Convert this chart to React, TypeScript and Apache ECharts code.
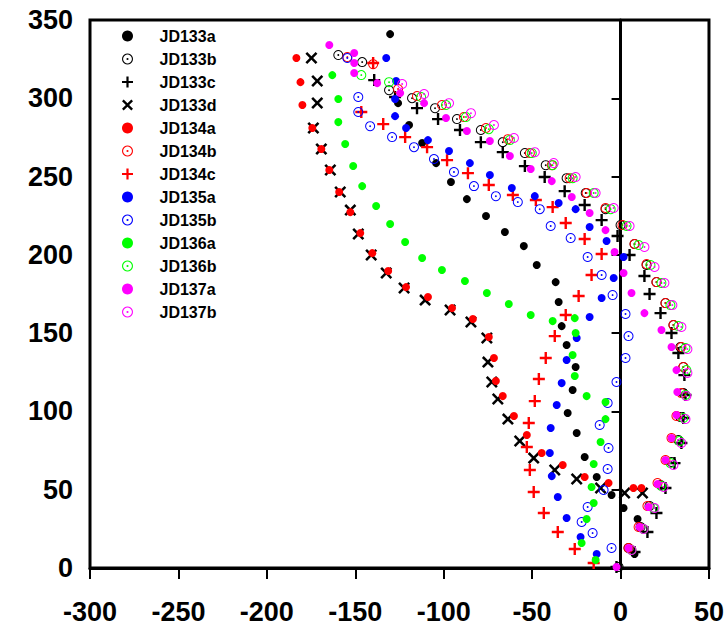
import React, { useEffect, useRef } from "react";
import * as echarts from "echarts";

// ---------- data ----------
const seriesNames = [
  "JD133a", "JD133b", "JD133c", "JD133d", "JD134a", "JD134b", "JD134c",
  "JD135a", "JD135b", "JD136a", "JD136b", "JD137a", "JD137b",
];

const xTicks = [-300, -250, -200, -150, -100, -50, 0, 50];
const yTicks = [0, 50, 100, 150, 200, 250, 300, 350];

const JD133a = [
  [-130.3, 341.0], [-125.8, 296.9], [-119.6, 282.9], [-112.2, 271.4], [-104.3, 258.6],
  [-95.9, 246.5], [-86.9, 235.6], [-76.1, 224.8], [-65.4, 214.6], [-54.7, 205.6],
  [-47.4, 193.5], [-36.7, 182.6], [-35.0, 169.9], [-33.3, 154.5], [-30.5, 142.4],
  [-25.4, 128.4], [-27.1, 113.7], [-29.9, 99.0], [-24.8, 86.2], [-20.3, 70.9],
  [-13.5, 58.1], [-5.1, 46.6], [1.7, 38.3], [9.6, 31.3], [7.9, 8.9],
];
const JD133b = [
  [-159.6, 327.6], [-146.1, 323.1], [-130.9, 305.2], [-117.9, 300.1], [-104.9, 293.7],
  [-92.5, 286.7], [-79.0, 279.7], [-66.6, 272.0], [-54.1, 265.0], [-42.3, 257.3],
  [-30.5, 249.0], [-19.7, 239.5], [-8.5, 229.2], [0.0, 219.0], [7.9, 206.9],
  [14.7, 193.5], [20.3, 182.6], [25.4, 169.2], [29.9, 155.2], [33.8, 141.1],
  [35.5, 128.4], [35.5, 111.7], [33.8, 96.4], [32.7, 81.7], [28.8, 67.7],
  [22.6, 53.0], [16.4, 39.6], [11.3, 26.2], [4.5, 12.8], [-1.1, 0.6],
];
const JD133c = [
  [-139.3, 311.6], [-127.5, 300.8], [-115.1, 293.7], [-103.2, 286.7], [-90.8, 279.7],
  [-79.0, 272.0], [-66.6, 265.6], [-54.1, 256.7], [-42.9, 249.7], [-31.6, 240.7],
  [-20.3, 231.8], [-10.7, 222.2], [-1.7, 212.0], [5.1, 199.9], [13.5, 186.5],
  [16.4, 175.0], [22.6, 162.8], [28.8, 150.1], [32.7, 137.3], [36.1, 123.2],
  [36.7, 110.5], [35.5, 95.8], [34.4, 79.8], [30.5, 67.0], [25.4, 51.1],
  [20.3, 35.1], [15.2, 23.0], [7.9, 10.2], [-2.3, 0.6],
];
const JD133d = [
  [-174.8, 325.7], [-171.5, 311.0], [-171.5, 297.0], [-173.7, 281.0], [-169.2, 267.6],
  [-164.1, 254.2], [-158.5, 240.1], [-152.8, 228.6], [-148.3, 213.3], [-141.0, 199.9],
  [-132.5, 188.4], [-122.4, 178.8], [-110.5, 171.1], [-96.4, 164.8], [-84.6, 157.1],
  [-75.6, 146.9], [-75.0, 131.5], [-72.8, 118.8], [-69.4, 107.9], [-63.7, 95.1],
  [-57.0, 81.1], [-49.1, 70.2], [-37.2, 62.6], [-24.8, 56.8], [-11.3, 51.1],
  [2.3, 47.9], [12.4, 47.9],
];
const JD134a = [
  [-183.3, 325.7], [-181.0, 310.3], [-179.9, 295.7], [-174.3, 281.0], [-169.2, 267.6],
  [-164.7, 254.2], [-159.1, 240.1], [-152.8, 227.3], [-147.2, 213.9], [-140.4, 201.1],
  [-131.4, 189.7], [-121.3, 179.4], [-108.9, 173.1], [-95.3, 166.0], [-83.5, 159.0],
  [-74.5, 147.5], [-71.6, 134.1], [-70.5, 119.4], [-66.6, 109.8], [-60.3, 97.1],
  [-53.0, 84.9], [-44.6, 73.4], [-32.7, 65.8], [-20.3, 58.1], [-6.8, 54.3],
  [7.3, 51.1], [11.8, 51.1],
];
const JD134b = [
  [-154.5, 326.3], [-139.9, 321.8], [-125.8, 305.9], [-115.1, 301.4], [-101.0, 295.7],
  [-88.6, 288.0], [-76.1, 281.0], [-63.7, 273.9], [-51.3, 265.0], [-38.9, 257.3],
  [-28.8, 249.0], [-19.2, 239.5], [-8.5, 229.9], [1.1, 219.0], [7.9, 206.9],
  [14.7, 194.1], [20.3, 182.6], [25.4, 169.2], [29.9, 155.2], [34.4, 141.1],
  [35.5, 128.4], [34.4, 111.7], [31.6, 97.1], [28.8, 83.0], [25.4, 69.0],
  [20.9, 54.3], [15.2, 39.6], [10.2, 26.2], [4.5, 12.8],
];
const JD134c = [
  [-139.9, 322.5], [-146.6, 291.2], [-134.2, 283.5], [-121.8, 275.2], [-109.4, 268.8],
  [-98.1, 260.5], [-86.3, 252.2], [-74.5, 244.6], [-60.9, 238.2], [-47.9, 235.0],
  [-38.4, 230.5], [-31.0, 220.3], [-20.3, 210.1], [-10.7, 200.5], [-16.4, 187.1],
  [-23.7, 173.7], [-31.0, 161.6], [-37.2, 148.1], [-42.3, 134.1], [-46.2, 120.7],
  [-48.5, 106.6], [-51.9, 92.6], [-53.0, 77.3], [-51.3, 62.6], [-49.1, 48.5],
  [-43.4, 35.1], [-35.5, 23.0], [-25.9, 12.1], [-15.2, 3.2],
];
const JD135a = [
  [-132.5, 325.7], [-126.9, 311.0], [-127.5, 299.5], [-127.5, 288.6], [-121.3, 281.0],
  [-108.9, 273.3], [-97.0, 266.3], [-85.2, 258.6], [-73.9, 251.0], [-61.5, 242.7],
  [-48.5, 237.5], [-35.0, 233.1], [-25.4, 229.2], [-17.5, 217.8], [-7.9, 208.8],
  [1.7, 198.6], [-3.9, 185.2], [-10.7, 172.4], [-17.5, 160.3], [-24.8, 146.9],
  [-30.5, 132.8], [-33.3, 118.1], [-36.1, 104.1], [-39.5, 89.4], [-40.0, 73.4],
  [-38.9, 58.7], [-35.5, 45.3], [-30.5, 31.9], [-22.6, 19.8], [-13.5, 8.9],
];
const JD135b = [
  [-154.5, 325.7], [-148.3, 300.8], [-148.3, 291.2], [-141.6, 282.2], [-129.2, 275.2],
  [-116.8, 268.8], [-105.5, 261.2], [-94.2, 252.9], [-82.9, 243.9], [-70.5, 237.5],
  [-58.1, 233.7], [-45.7, 229.2], [-39.5, 218.4], [-28.2, 210.7], [-18.6, 198.6],
  [-10.7, 187.1], [-4.5, 174.3], [2.8, 162.2], [4.5, 148.1], [2.8, 134.1],
  [-2.3, 118.8], [-7.3, 105.4], [-11.8, 91.3], [-6.8, 76.6], [-7.3, 63.2],
  [-9.6, 49.8], [-18.6, 39.0], [-22.0, 29.4], [-15.8, 22.3], [-5.1, 12.8],
];
const JD136a = [
  [-163.0, 314.8], [-159.6, 299.5], [-159.6, 284.8], [-155.7, 270.8], [-151.2, 256.7],
  [-146.1, 243.9], [-138.2, 231.2], [-130.3, 219.7], [-121.8, 208.2], [-112.2, 198.0],
  [-101.0, 190.3], [-88.0, 183.3], [-75.6, 175.6], [-63.2, 168.6], [-50.8, 161.6],
  [-38.4, 157.7], [-25.9, 159.6], [-25.4, 150.1], [-27.1, 136.0], [-25.9, 122.6],
  [-19.2, 109.8], [-8.5, 106.0], [-8.5, 95.1], [-11.3, 80.5], [-15.2, 66.4],
  [-16.4, 51.7], [-15.2, 41.5], [-19.2, 31.3], [-22.0, 16.0], [-14.1, 5.1],
];
const JD136b = [
  [-146.6, 314.8], [-130.9, 310.3], [-112.8, 300.8], [-98.7, 295.7], [-87.4, 288.0],
  [-74.5, 280.3], [-62.6, 273.3], [-50.2, 265.0], [-38.4, 257.3], [-27.1, 249.0],
  [-15.2, 239.5], [-5.6, 229.2], [3.4, 218.4], [10.2, 206.3], [16.9, 193.5],
  [23.1, 182.0], [28.2, 167.9], [32.7, 154.5], [36.7, 140.5], [37.2, 126.4],
  [36.7, 110.5], [35.5, 95.8], [33.3, 81.1], [28.2, 67.0], [23.1, 52.4],
  [18.6, 38.3], [13.0, 24.9], [6.2, 11.5],
];
const JD137a = [
  [-164.7, 334.0], [-150.6, 328.9], [-150.6, 322.5], [-150.6, 316.1], [-137.6, 309.7],
  [-124.6, 303.3], [-111.1, 296.9], [-98.7, 287.4], [-86.9, 279.1], [-73.9, 272.7],
  [-62.6, 263.1], [-50.8, 254.8], [-38.9, 247.1], [-27.6, 236.9], [-17.5, 226.7],
  [-8.5, 215.8], [-3.4, 201.8], [1.7, 188.4], [6.2, 175.6], [13.5, 162.8],
  [23.1, 152.0], [28.8, 141.1], [31.6, 126.4], [32.1, 112.4], [31.6, 97.7],
  [28.8, 83.0], [25.4, 69.0], [20.9, 53.6], [15.8, 39.0], [10.7, 26.2],
  [4.5, 12.8], [-2.3, 0.6],
];
const JD137b = [
  [-123.5, 309.1], [-111.1, 302.7], [-97.0, 296.9], [-84.6, 290.5], [-71.6, 282.9],
  [-60.3, 274.6], [-48.5, 265.6], [-37.8, 258.6], [-25.4, 249.7], [-14.1, 239.5],
  [-3.9, 229.9], [5.1, 218.4], [13.5, 205.0], [19.2, 192.2], [24.8, 182.0],
  [29.3, 167.9], [34.4, 153.9], [37.8, 139.8], [37.8, 124.5], [37.2, 109.8],
  [36.7, 95.1], [34.4, 79.8], [29.9, 65.8], [24.3, 51.7], [19.2, 38.3],
  [13.0, 24.9], [6.2, 11.5],
];

const seriesData = [
  JD133a, JD133b, JD133c, JD133d, JD134a, JD134b, JD134c,
  JD135a, JD135b, JD136a, JD136b, JD137a, JD137b,
];

// ---------- styles ----------
function polyLoop(r: number, n: number, reverse: boolean): string {
  const pts: string[] = [];
  for (let i = 0; i < n; i++) {
    const a = ((reverse ? -1 : 1) * 2 * Math.PI * i) / n;
    pts.push(`${(10 + r * Math.cos(a)).toFixed(3)},${(10 + r * Math.sin(a)).toFixed(3)}`);
  }
  return "M" + pts.join("L") + "Z";
}
const SYM_RING = "path://" + polyLoop(10, 20, false) + polyLoop(8, 20, true) + polyLoop(2, 8, false);
const SYM_PLUS = "path://M4,0H6V4H10V6H6V10H4V6H0V4H4Z";
const SYM_X =
  "path://M0,1.5L1.5,0L5,3.5L8.5,0L10,1.5L6.5,5L10,8.5L8.5,10L5,6.5L1.5,10L0,8.5L3.5,5Z";

const styles: Array<{ color: string; symbol: string; size: number }> = [
  { color: "#000000", symbol: "circle", size: 8 },
  { color: "#000000", symbol: SYM_RING, size: 10 },
  { color: "#000000", symbol: SYM_PLUS, size: 12 },
  { color: "#000000", symbol: SYM_X, size: 12 },
  { color: "#ff0000", symbol: "circle", size: 8 },
  { color: "#ff0000", symbol: SYM_RING, size: 10 },
  { color: "#ff0000", symbol: SYM_PLUS, size: 12 },
  { color: "#0000ff", symbol: "circle", size: 8 },
  { color: "#0000ff", symbol: SYM_RING, size: 10 },
  { color: "#00ff00", symbol: "circle", size: 8 },
  { color: "#00ff00", symbol: SYM_RING, size: 10 },
  { color: "#ff00ff", symbol: "circle", size: 8 },
  { color: "#ff00ff", symbol: SYM_RING, size: 10 },
];

const FONT = "'Liberation Sans', Arial, sans-serif";

export default function App() {
  const ref = useRef<HTMLDivElement>(null);

  useEffect(() => {
    document.body.style.margin = "0";
    if (!ref.current) return;
    const chart = echarts.init(ref.current, undefined, { renderer: "svg" });

    const xMin = xTicks[0];
    const xMax = xTicks[xTicks.length - 1];
    const yMin = yTicks[0];
    const yMax = yTicks[yTicks.length - 1];

    const scatterSeries = seriesNames.map((name, i) => ({
      name,
      type: "scatter",
      data: seriesData[i],
      symbol: styles[i].symbol,
      symbolSize: styles[i].size,
      itemStyle: { color: styles[i].color, opacity: 1 },
      emphasis: { disabled: true },
      z: 3,
    }));

    chart.setOption({
      animation: false,
      grid: {
        left: 90,
        right: 16,
        top: 20,
        bottom: 57,
        show: true,
        borderColor: "#000",
        borderWidth: 3,
      },
      legend: {
        orient: "vertical",
        left: 122,
        top: 28,
        padding: 0,
        itemWidth: 54,
        itemHeight: 11,
        itemGap: 7,
        selectedMode: false,
        textStyle: {
          fontSize: 16,
          lineHeight: 16,
          fontWeight: "bold",
          color: "#000",
          fontFamily: FONT,
        },
        data: seriesNames,
      },
      xAxis: {
        type: "value",
        min: xMin,
        max: xMax,
        interval: 50,
        splitLine: { show: false },
        axisLine: { show: true, lineStyle: { color: "#000", width: 3 } },
        axisTick: { show: true, length: 11, lineStyle: { color: "#000", width: 2 } },
        axisLabel: {
          margin: 30,
          fontSize: 27,
          fontWeight: "bold",
          color: "#000",
          fontFamily: FONT,
        },
      },
      yAxis: {
        type: "value",
        min: yMin,
        max: yMax,
        interval: 50,
        splitLine: { show: false },
        axisLine: { show: true, lineStyle: { color: "#000", width: 3 } },
        axisTick: { show: true, length: 9, lineStyle: { color: "#000", width: 2 } },
        axisLabel: {
          margin: 17,
          fontSize: 27,
          fontWeight: "bold",
          color: "#000",
          fontFamily: FONT,
        },
      },
      series: scatterSeries,
    });

    return () => chart.dispose();
  }, []);

  return <div ref={ref} style={{ width: 727, height: 625 }} />;
}
